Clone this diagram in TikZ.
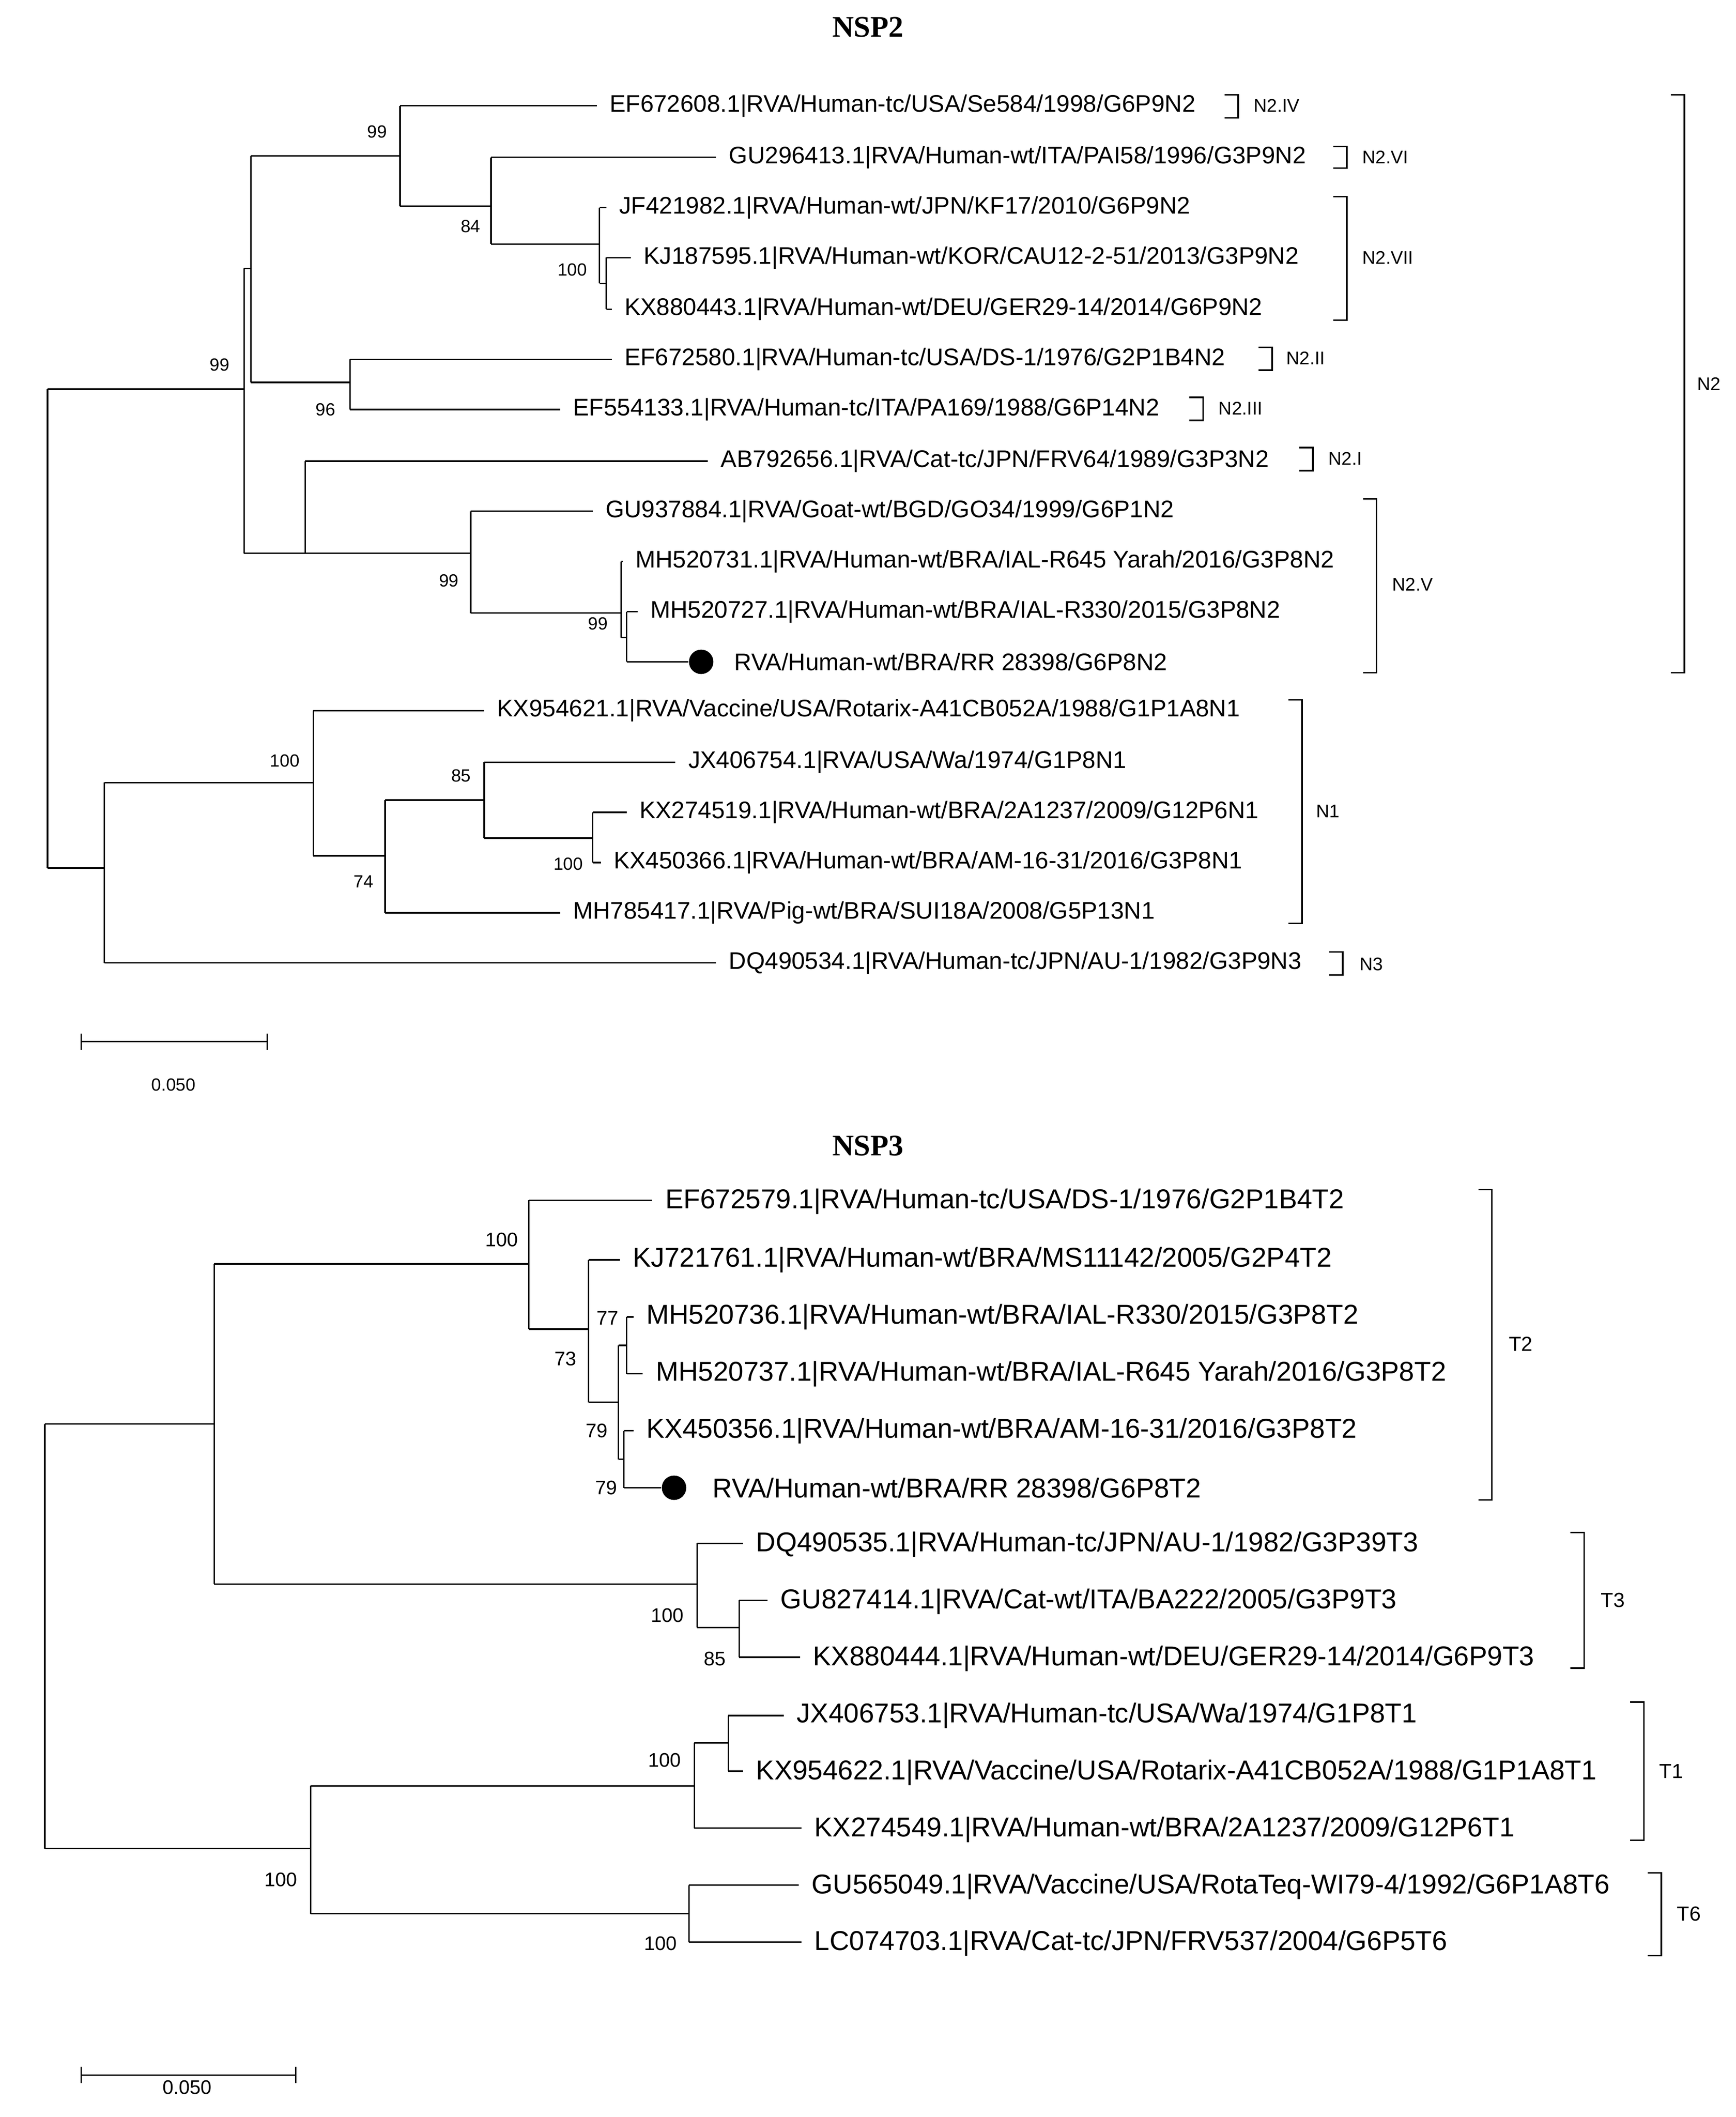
\documentclass[tikz,border=0pt]{standalone}
\usepackage{fontspec}
\setmainfont{Liberation Sans}
\newfontfamily\titlefont{Liberation Serif}
\begin{document}
\begin{tikzpicture}[x=1pt,y=-1pt,line width=1.1pt,
 leafa/.style={anchor=west,inner sep=0pt,font=\fontsize{17.7}{17.7}\selectfont},
 leafb/.style={anchor=west,inner sep=0pt,font=\fontsize{20.1}{20.1}\selectfont},
 bs/.style={inner sep=0pt,font=\fontsize{13}{13}\selectfont},
 bsb/.style={inner sep=0pt,font=\fontsize{14.5}{14.5}\selectfont},
 clade/.style={anchor=west,inner sep=0pt,font=\fontsize{13.5}{13.5}\selectfont},
 cladeb/.style={anchor=west,inner sep=0pt,font=\fontsize{15}{15}\selectfont},
 ttl/.style={font=\titlefont\bfseries\fontsize{22}{22}\selectfont},
 dotn/.style={circle,fill=black,inner sep=0pt,minimum size=18pt}]
\useasboundingbox[fill=white] (0,0) rectangle (1280,1561);
\newcommand\myvt[3]{\draw (#1,#2) -- (#1,#3);}
\newcommand\myhz[3]{\draw (#1,#2) -- (#3,#2);}
\newcommand\mylf[5]{\node[#1] (#2) at (#3,#4) {#5};}
\newcommand\mybrk[3]{\draw (#1-10,#2) -- (#1,#2) -- (#1,#3) -- (#1-10,#3);}
% ---------------- NSP2
\node[ttl] (t1) at (640,20) {NSP2};
\myvt{35}{287}{640}
\myhz{35}{287}{180} \myvt{180}{198}{408}
\myhz{180}{198}{185} \myvt{185}{115}{282}
\myhz{185}{115}{295} \myvt{295}{78}{152}
\mylf{leafa}{a1}{449}{78}{EF672608.1|RVA/Human-tc/USA/Se584/1998/G6P9N2}
\draw (295,78) -- (440,78);
\myhz{295}{152}{362} \myvt{362}{116}{180}
\draw (362,116) -- (528,116); \mylf{leafa}{a2}{537}{116}{GU296413.1|RVA/Human-wt/ITA/PAI58/1996/G3P9N2}
\myhz{362}{180}{442} \myvt{442}{153}{209}
\draw (442,153) -- (447,153); \mylf{leafa}{a3}{456}{153}{JF421982.1|RVA/Human-wt/JPN/KF17/2010/G6P9N2}
\myhz{442}{209}{447} \myvt{447}{190}{228}
\draw (447,190) -- (465,190); \mylf{leafa}{a4}{474}{190}{KJ187595.1|RVA/Human-wt/KOR/CAU12-2-51/2013/G3P9N2}
\draw (447,228) -- (451,228); \mylf{leafa}{a5}{460}{228}{KX880443.1|RVA/Human-wt/DEU/GER29-14/2014/G6P9N2}
\myhz{185}{282}{258} \myvt{258}{265}{302}
\draw (258,265) -- (451,265); \mylf{leafa}{a6}{460}{265}{EF672580.1|RVA/Human-tc/USA/DS-1/1976/G2P1B4N2}
\draw (258,302) -- (413,302); \mylf{leafa}{a7}{422}{302}{EF554133.1|RVA/Human-tc/ITA/PA169/1988/G6P14N2}
\myhz{180}{408}{225} \myvt{225}{340}{408}
\draw (225,340) -- (522,340); \mylf{leafa}{a8}{531}{340}{AB792656.1|RVA/Cat-tc/JPN/FRV64/1989/G3P3N2}
\myhz{225}{408}{347} \myvt{347}{377}{452}
\draw (347,377) -- (437,377); \mylf{leafa}{a9}{446}{377}{GU937884.1|RVA/Goat-wt/BGD/GO34/1999/G6P1N2}
\myhz{347}{452}{458} \myvt{458}{414}{470}
\draw (458,414) -- (459,414); \mylf{leafa}{a10}{468}{414}{MH520731.1|RVA/Human-wt/BRA/IAL-R645 Yarah/2016/G3P8N2}
\myhz{458}{470}{462} \myvt{462}{451}{488}
\draw (462,451) -- (470,451); \mylf{leafa}{a11}{479}{451}{MH520727.1|RVA/Human-wt/BRA/IAL-R330/2015/G3P8N2}
\node[dotn] (d1) at (517,488) {};
\draw (462,488) -- (d1.west);
\node[leafa] (a12) at (541,488) {RVA/Human-wt/BRA/RR 28398/G6P8N2};
\myhz{35}{640}{77} \myvt{77}{577}{710}
\myhz{77}{577}{231} \myvt{231}{524}{631}
\draw (231,524) -- (357,524); \mylf{leafa}{b1}{366}{524}{KX954621.1|RVA/Vaccine/USA/Rotarix-A41CB052A/1988/G1P1A8N1}
\myhz{231}{631}{284} \myvt{284}{590}{673}
\myhz{284}{590}{357} \myvt{357}{562}{618}
\draw (357,562) -- (498,562); \mylf{leafa}{b2}{507}{562}{JX406754.1|RVA/USA/Wa/1974/G1P8N1}
\myhz{357}{618}{437} \myvt{437}{599}{636}
\draw (437,599) -- (462,599); \mylf{leafa}{b3}{471}{599}{KX274519.1|RVA/Human-wt/BRA/2A1237/2009/G12P6N1}
\draw (437,636) -- (443,636); \mylf{leafa}{b4}{452}{636}{KX450366.1|RVA/Human-wt/BRA/AM-16-31/2016/G3P8N1}
\draw (284,673) -- (413,673); \mylf{leafa}{b5}{422}{673}{MH785417.1|RVA/Pig-wt/BRA/SUI18A/2008/G5P13N1}
\draw (77,710) -- (528,710); \mylf{leafa}{b6}{537}{710}{DQ490534.1|RVA/Human-tc/JPN/AU-1/1982/G3P9N3}
% bootstraps
\node[bs] at (278,97) {99}; \node[bs] at (347,167) {84}; \node[bs] at (422,199) {100};
\node[bs] at (162,269) {99}; \node[bs] at (240,302) {96}; \node[bs] at (331,428) {99};
\node[bs] at (441,460) {99}; \node[bs] at (210,561) {100}; \node[bs] at (340,572) {85};
\node[bs] at (419,637) {100}; \node[bs] at (268,650) {74};
% brackets
\mybrk{913}{70}{87} \node[clade] at (924,78) {N2.IV};
\mybrk{993}{108}{124} \node[clade] at (1004,116) {N2.VI};
\mybrk{993}{145}{236} \node[clade] at (1004,190) {N2.VII};
\mybrk{938}{256}{273} \node[clade] at (948,264) {N2.II};
\mybrk{887}{293}{310} \node[clade] at (898,301) {N2.III};
\mybrk{968}{330}{347} \node[clade] at (979,338) {N2.I};
\mybrk{1015}{368}{496} \node[clade] at (1026,431) {N2.V};
\mybrk{960}{516}{681} \node[clade] at (970,598) {N1};
\mybrk{990}{702}{719} \node[clade] at (1002,711) {N3};
\mybrk{1242}{70}{496} \node[clade] at (1251,283) {N2};
\draw (60,762) -- (60,774) (60,768) -- (197,768) (197,762) -- (197,774);
\node[bs] at (128,800) {0.050};
% ---------------- NSP3
\node[ttl] (t2) at (640,845) {NSP3};
\myvt{33}{1050}{1363}
\myhz{33}{1050}{158} \myvt{158}{932}{1168}
\myhz{158}{932}{390} \myvt{390}{885}{980}
\draw (390,885) -- (481,885); \mylf{leafb}{c1}{490}{886}{EF672579.1|RVA/Human-tc/USA/DS-1/1976/G2P1B4T2}
\myhz{390}{980}{434} \myvt{434}{929}{1034}
\draw (434,929) -- (457,929); \mylf{leafb}{c2}{466}{929}{KJ721761.1|RVA/Human-wt/BRA/MS11142/2005/G2P4T2}
\myhz{434}{1034}{456} \myvt{456}{992}{1076}
\myhz{456}{992}{462} \myvt{462}{971}{1013}
\draw (462,971) -- (467,971); \mylf{leafb}{c3}{476}{971}{MH520736.1|RVA/Human-wt/BRA/IAL-R330/2015/G3P8T2}
\draw (462,1013) -- (474,1013); \mylf{leafb}{c4}{483}{1013}{MH520737.1|RVA/Human-wt/BRA/IAL-R645 Yarah/2016/G3P8T2}
\myhz{456}{1076}{460} \myvt{460}{1055}{1097}
\draw (460,1055) -- (467,1055); \mylf{leafb}{c5}{476}{1055}{KX450356.1|RVA/Human-wt/BRA/AM-16-31/2016/G3P8T2}
\node[dotn] (d2) at (497,1097) {};
\draw (460,1097) -- (d2.west);
\node[leafb] (c6) at (525,1097) {RVA/Human-wt/BRA/RR 28398/G6P8T2};
\myhz{158}{1168}{514} \myvt{514}{1138}{1200}
\draw (514,1138) -- (548,1138); \mylf{leafb}{c7}{557}{1139}{DQ490535.1|RVA/Human-tc/JPN/AU-1/1982/G3P39T3}
\myhz{514}{1200}{545} \myvt{545}{1180}{1222}
\draw (545,1180) -- (566,1180); \mylf{leafb}{c8}{575}{1181}{GU827414.1|RVA/Cat-wt/ITA/BA222/2005/G3P9T3}
\draw (545,1222) -- (590,1222); \mylf{leafb}{c9}{599}{1223}{KX880444.1|RVA/Human-wt/DEU/GER29-14/2014/G6P9T3}
\myhz{33}{1363}{229} \myvt{229}{1317}{1411}
\myhz{229}{1317}{512} \myvt{512}{1285}{1348}
\myhz{512}{1285}{537} \myvt{537}{1265}{1306}
\draw (537,1265) -- (578,1265); \mylf{leafb}{e1}{587}{1265}{JX406753.1|RVA/Human-tc/USA/Wa/1974/G1P8T1}
\draw (537,1306) -- (548,1306); \mylf{leafb}{e2}{557}{1307}{KX954622.1|RVA/Vaccine/USA/Rotarix-A41CB052A/1988/G1P1A8T1}
\draw (512,1348) -- (591,1348); \mylf{leafb}{e3}{600}{1349}{KX274549.1|RVA/Human-wt/BRA/2A1237/2009/G12P6T1}
\myhz{229}{1411}{508} \myvt{508}{1390}{1432}
\draw (508,1390) -- (589,1390); \mylf{leafb}{e4}{598}{1391}{GU565049.1|RVA/Vaccine/USA/RotaTeq-WI79-4/1992/G6P1A8T6}
\draw (508,1432) -- (591,1432); \mylf{leafb}{e5}{600}{1433}{LC074703.1|RVA/Cat-tc/JPN/FRV537/2004/G6P5T6}
\node[bsb] at (370,914) {100}; \node[bsb] at (417,1002) {73}; \node[bsb] at (448,972) {77};
\node[bsb] at (440,1055) {79}; \node[bsb] at (447,1097) {79}; \node[bsb] at (492,1191) {100};
\node[bsb] at (527,1223) {85}; \node[bsb] at (490,1298) {100}; \node[bsb] at (207,1386) {100};
\node[bsb] at (487,1433) {100};
\mybrk{1100}{877}{1106} \node[cladeb] at (1112,991) {T2};
\mybrk{1168}{1130}{1230} \node[cladeb] at (1180,1180) {T3};
\mybrk{1212}{1255}{1357} \node[cladeb] at (1223,1306) {T1};
\mybrk{1225}{1381}{1442} \node[cladeb] at (1236,1411) {T6};
\draw (60,1524) -- (60,1536) (60,1530) -- (218,1530) (218,1524) -- (218,1536);
\node[bsb] at (138,1539) {0.050};
\end{tikzpicture}
\end{document}
